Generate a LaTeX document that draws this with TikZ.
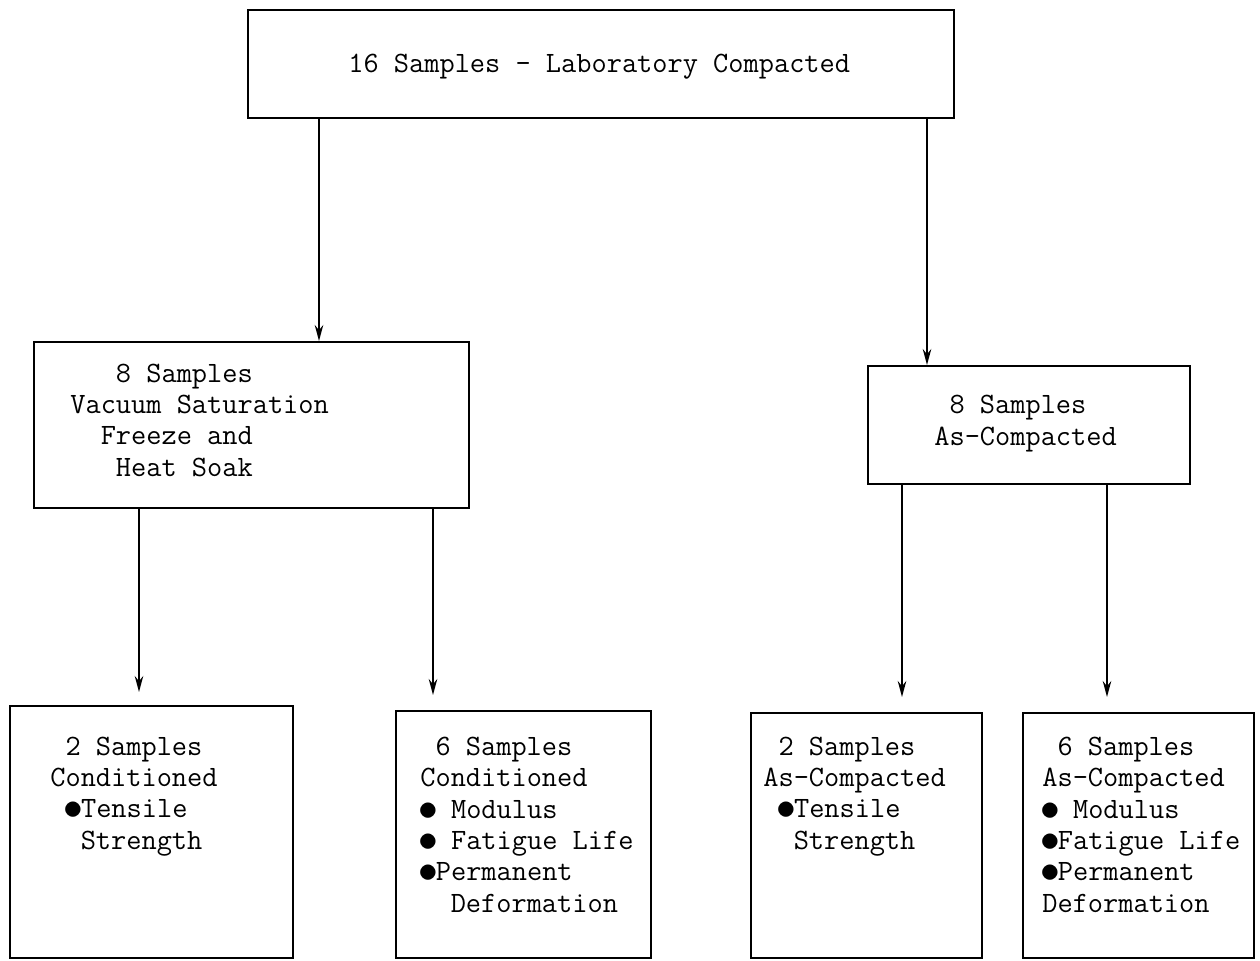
\documentclass[tikz,border=0pt]{standalone}
\usepackage{fontspec}
\usetikzlibrary{arrows.meta}
\newcommand{\puce}{\makebox[0.525em][c]{\raisebox{-0.07em}{\scalebox{1.3}{$\bullet$}}}}

\begin{document}
\begin{tikzpicture}[x=0.2mm,y=-0.2mm]
\tikzstyle{fleche}=[-{Stealth[length=3.2mm,width=1.7mm]},line width=1pt]
\tikzset{boite/.style 2 args={draw,line width=1.1pt,inner sep=0pt,anchor=north west,
minimum width=#1,minimum height=#2},
texte/.style={anchor=base west,align=left,inner sep=0pt,
font=\ttfamily\fontsize{16.8pt}{17.8pt}\selectfont}}
\useasboundingbox (0,0) rectangle (1260,961);
% les boites
\node [boite={141.2mm}{21.6mm}] (labo) at (247,9) {};
\node [boite={87mm}{33.2mm}] (vide) at (33,341) {};
\node [boite={64.4mm}{23.6mm}] (brut) at (867,365) {};
\node [boite={56.6mm}{50.4mm}] (cond2) at (9,705) {};
\node [boite={51mm}{49.4mm}] (cond6) at (395,710) {};
\node [boite={46.2mm}{49mm}] (brut2) at (750,712) {};
\node [boite={46.2mm}{49mm}] (brut6) at (1022,712) {};
% les textes (placees par la ligne du bas)
\node [texte] (t-labo) at (348,72) {16 Samples - Laboratory Compacted};
\node [texte] (t-vide) at (70,476) {~~~8 Samples\\Vacuum Saturation\\~~Freeze and\\~~~Heat Soak};
\node [texte] (t-brut) at (934,445) {~8 Samples\\As-Compacted};
\node [texte] (t-cond2) at (50,849) {~2 Samples\\Conditioned\\~\puce Tensile\\~~Strength};
\node [texte] (t-cond6) at (420,912) {~6 Samples\\Conditioned\\\puce~Modulus\\\puce~Fatigue Life\\\puce Permanent\\~~Deformation};
\node [texte] (t-brut2) at (763,849) {~2 Samples\\As-Compacted\\~\puce Tensile\\~~Strength};
\node [texte] (t-brut6) at (1042,912) {~6 Samples\\As-Compacted\\\puce~Modulus\\\puce Fatigue Life\\\puce Permanent\\Deformation};
% les fleches
\coordinate (xa) at (319,0);
\coordinate (xb) at (927,0);
\coordinate (xc) at (139,0);
\coordinate (xd) at (433,0);
\coordinate (xe) at (902,0);
\coordinate (xf) at (1107,0);
\draw [fleche] (labo.south -| xa) -- (vide.north -| xa);
\draw [fleche] (labo.south -| xb) -- (brut.north -| xb);
\draw [fleche,shorten >=2.6mm] (vide.south -| xc) -- (cond2.north -| xc);
\draw [fleche,shorten >=3mm] (vide.south -| xd) -- (cond6.north -| xd);
\draw [fleche,shorten >=3mm] (brut.south -| xe) -- (brut2.north -| xe);
\draw [fleche,shorten >=3mm] (brut.south -| xf) -- (brut6.north -| xf);
\end{tikzpicture}
\end{document}
